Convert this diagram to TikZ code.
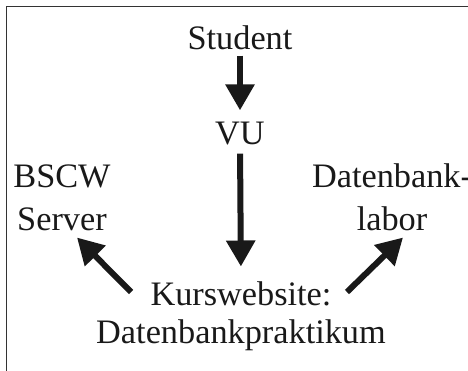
\documentclass[tikz,border=0pt]{standalone}
\usepackage{fontspec}
\setmainfont{Liberation Serif}
\usetikzlibrary{arrows.meta}
\tikzset{
  lbl/.style={inner sep=0pt, align=center, text=black!90,
    font=\fontsize{34.3pt}{42pt}\selectfont},
  bigarrow/.style={line width=6pt, black!90,
    -{Triangle[length=26pt,width=28pt]}},
  frame/.style={draw=black!80, line width=1.5pt}
}
\begin{document}
\begin{tikzpicture}[x=1pt,y=-1pt]
  \useasboundingbox (0,0) rectangle (468,371);
  \clip (0,0) rectangle (468,371);
  % open frame running off the right and bottom edges
  \draw[frame] (6.5,400) -- (6.5,6.5) -- (500,6.5);

  % base anchor of a two-line node sits on its last line
  \node[lbl, anchor=base] (student) at (240,50) {Student};
  \node[lbl, anchor=base] (vu) at (240,145) {VU};
  \node[lbl, anchor=base] (bscw) at (62,230) {BSCW\\Server};
  \node[lbl, anchor=base] (labor) at (392,230) {Datenbank-\\labor};
  \node[lbl, anchor=base] (kurs) at (241,343) {Kurswebsite:\\[-4pt]Datenbankpraktikum};

  \draw[bigarrow, shorten <=5pt, shorten >=12pt] (student.south) -- (vu.north);
  \draw[bigarrow, shorten <=8pt, shorten >=14.5pt] (vu.south) -- (kurs.north);
  \draw[bigarrow] ([shift={(35,11)}]kurs.north west) -- ([shift={(15,7)}]bscw.south);
  \draw[bigarrow] ([shift={(-39,11)}]kurs.north east) -- ([shift={(11,7)}]labor.south);
\end{tikzpicture}
\end{document}
